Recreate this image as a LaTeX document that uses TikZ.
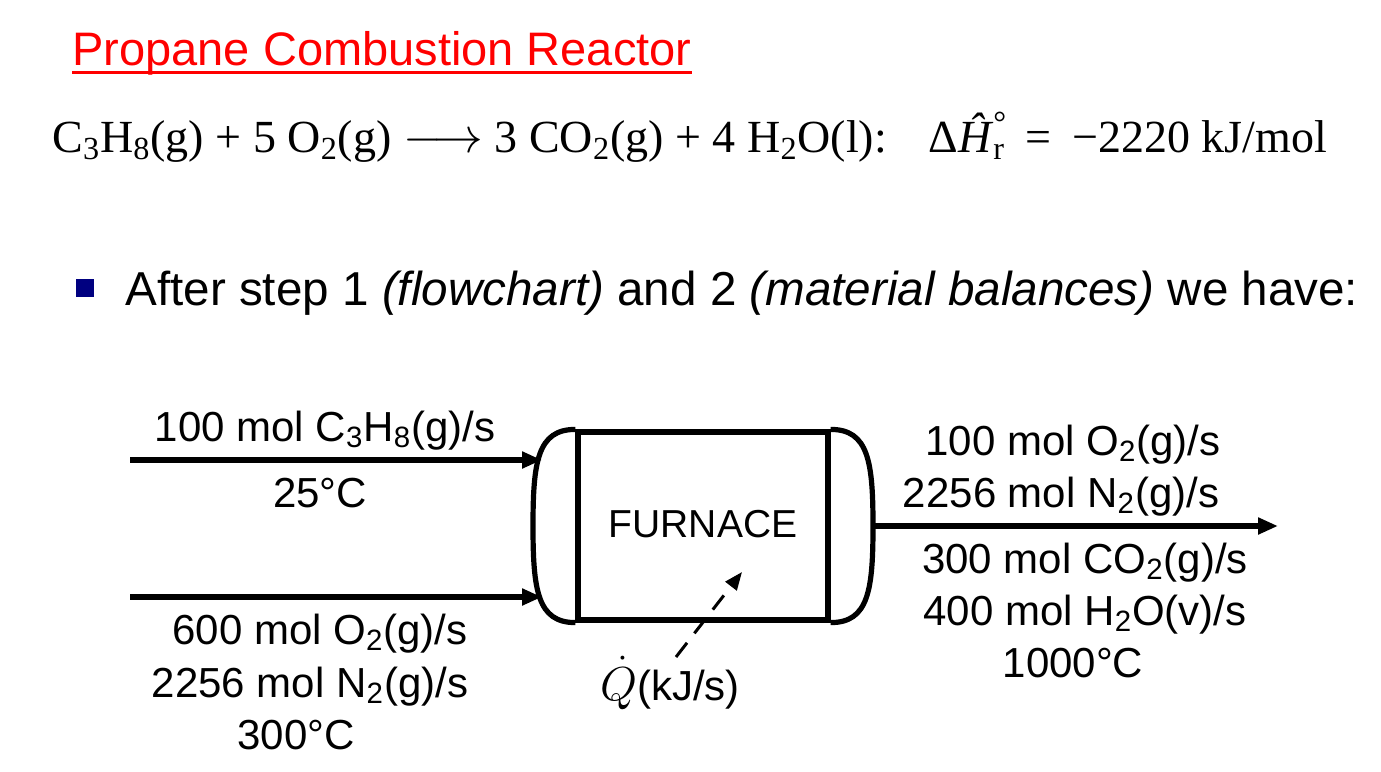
\documentclass[tikz,border=0pt]{standalone}
\usepackage{fontspec}
\setmainfont{Liberation Serif}
\setsansfont{Liberation Sans}
\newfontfamily\arial{Liberation Sans}
\usetikzlibrary{arrows.meta}
\definecolor{bulletblue}{RGB}{0,0,128}
\begin{document}
\begin{tikzpicture}[x=0.5pt,y=-0.5pt,
  lbl/.style={font=\arial\fontsize{21}{25}\selectfont, inner sep=0, anchor=base},
  stream/.style={line width=3pt, -{Triangle[length=10pt,width=8pt]}},
  vessel/.style={line width=2.6pt}]
\useasboundingbox (0,0) rectangle (1381,771);
% title
\node[anchor=base west, inner sep=0, text=red, font=\arial\fontsize{23.5}{28}\selectfont] (title) at (72,65) {Propane Combustion Reactor};
\draw[red, line width=1.4pt] ([yshift=-3.6pt]title.base west) -- ([yshift=-3.6pt]title.base east);
% equation
\node[anchor=base west, inner sep=0, font=\fontsize{23}{27}\selectfont] (eq) at (52,152)
 {C\textsubscript{3}H\textsubscript{8}(g) + 5 O\textsubscript{2}(g) $\longrightarrow$ 3 CO\textsubscript{2}(g) + 4 H\textsubscript{2}O(l):\hspace{0.9em}Δ\textit{Ĥ}\rlap{\textsuperscript{°}}\textsubscript{r}\hspace{0.45em}=\hspace{0.45em}−2220 kJ/mol};
% bullet
\node[fill=bulletblue, minimum size=9pt, inner sep=0] (bullet) at (85,288) {};
\node[anchor=base west, inner sep=0, font=\arial\fontsize{23.8}{28}\selectfont] (after) at (125,305)
 {After step 1 \textit{(flowchart)} and 2 \textit{(material balances)} we have:};
% furnace
\node[draw, vessel, minimum width=125pt, minimum height=94pt, inner sep=0] (box) at (703,526) {};
\node[lbl, font=\arial\fontsize{19.5}{24}\selectfont] (fur) at (703,537) {FURNACE};
\coordinate (lft) at (533,526);
\coordinate (rgt) at (873,526);
\draw[vessel] (box.north west) .. controls +(-38,0) and +(0,-64) .. (lft) .. controls +(0,64) and +(-38,0) .. (box.south west);
\draw[vessel] (box.north east) .. controls +(38,0) and +(0,-64) .. (rgt) .. controls +(0,64) and +(38,0) .. (box.south east);
% streams
\coordinate (in1s) at (130,460); \coordinate (in1e) at (542,460);
\coordinate (in2s) at (130,597); \coordinate (in2e) at (542,597);
\coordinate (oute) at (1278,526);
\draw[stream] (in1s) -- (in1e);
\draw[stream] (in2s) -- (in2e);
\draw[stream] (rgt) -- (oute);
% heat
\coordinate (qs) at (676,657);
\coordinate (qe) at (742,572);
\draw[line width=1.5pt, dash pattern=on 9pt off 6pt, -{Triangle[length=9pt,width=7pt]}] (qs) -- (qe);
\node[lbl] (q) at (670,700) {\scalebox{1.15}{$\dot{Q}$}(kJ/s)};
% labels
\node[lbl] (a1) at (325,441) {100 mol C\textsubscript{3}H\textsubscript{8}(g)/s};
\node[lbl] (a2) at (320,507) {25°C};
\node[lbl] (b1) at (320,644) {600 mol O\textsubscript{2}(g)/s};
\node[lbl] (b2) at (310,697) {2256 mol N\textsubscript{2}(g)/s};
\node[lbl] (b3) at (296,749) {300°C};
\node[lbl] (c1) at (1073,455) {100 mol O\textsubscript{2}(g)/s};
\node[lbl] (c2) at (1061,507) {2256 mol N\textsubscript{2}(g)/s};
\node[lbl] (c3) at (1085,573) {300 mol CO\textsubscript{2}(g)/s};
\node[lbl] (c4) at (1085,625) {400 mol H\textsubscript{2}O(v)/s};
\node[lbl] (c5) at (1073,677) {1000°C};
\end{tikzpicture}
\end{document}
